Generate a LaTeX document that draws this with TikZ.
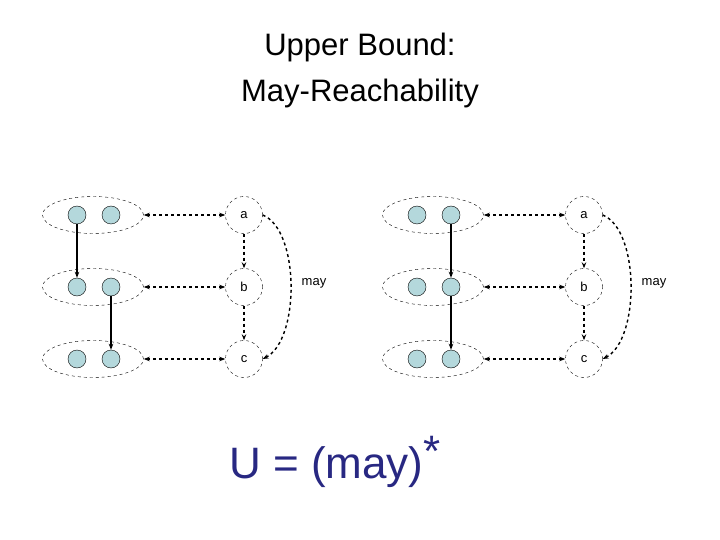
\documentclass[tikz,border=0pt]{standalone}
\usepackage{fontspec}
\setmainfont{Liberation Sans}
\usetikzlibrary{arrows.meta,shapes.geometric}
\definecolor{stc}{RGB}{180,216,220}
\definecolor{ink}{RGB}{40,40,130}
\begin{document}
\begin{tikzpicture}[x=1pt,y=-1pt,
  grp/.style={draw,dashed,ellipse,minimum width=101pt,minimum height=37pt,inner sep=0pt},
  st/.style={draw,fill=stc,circle,minimum size=18pt,inner sep=0pt},
  ab/.style={draw,dashed,circle,minimum size=37pt,inner sep=0pt,font=\fontsize{13}{15}\selectfont},
  dar/.style={line width=1.4pt,dashed,{Stealth[length=6pt]}-{Stealth[length=6pt]}},
  var/.style={line width=1.4pt,dashed,-{Stealth[length=6pt]}},
  sar/.style={line width=1.4pt,-{Stealth[length=6pt]}},
  lbl/.style={font=\fontsize{13}{15}\selectfont}]
\useasboundingbox (0,0) rectangle (720,540);
\node[align=center,font=\fontsize{31}{46}\selectfont] (title) at (360,70) {Upper Bound:\\May-Reachability};
\foreach \p/\dx in {L/0,R/340}{
  \foreach \r/\y/\t in {1/215/a,2/287/b,3/359/c}{
    \node[grp] (\p e\r) at (93+\dx,\y) {};
    \node[st] (\p l\r) at (77+\dx,\y) {};
    \node[st] (\p r\r) at (111+\dx,\y) {};
    \node[ab] (\p n\r) at (244+\dx,\y) {\t};
    \draw[dar] (\p e\r.east) -- (\p n\r.west);
  }
  \draw[var] (\p n1) -- (\p n2);
  \draw[var] (\p n2) -- (\p n3);
  \draw[var] (\p n1.east) .. controls (300+\dx,230) and (300+\dx,340) .. (\p n3.east);
  \node[lbl] (\p may) at (314+\dx,283) {may};
}
\draw[sar] (Ll1) -- (Ll2);
\draw[sar] (Lr2) -- (Lr3);
\draw[sar] (Rr1) -- (Rr2);
\draw[sar] (Rr2) -- (Rr3);
\node[text=ink,font=\fontsize{44}{50}\selectfont] (u) at (335,462) {U = (may)\raisebox{12pt}{*}};
\end{tikzpicture}
\end{document}
